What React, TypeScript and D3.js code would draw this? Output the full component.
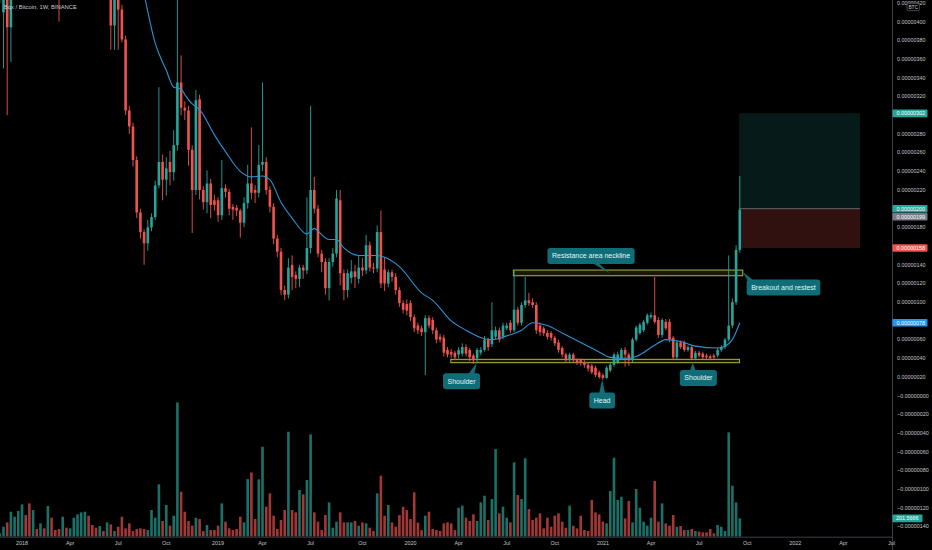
import React from 'react';
import * as d3 from 'd3';

// weekly bars, first bar = week of 2017-11-20
const START = Date.UTC(2017, 10, 20);
const WEEK_MS = 7 * 864e5;

// [open, high, low, close] in satoshi (1e-8 BTC)
const ohlc: [number, number, number, number][] = [
  [430, 450, 420, 445], [410, 500, 350, 470], [480, 500, 300, 394], [394, 520, 357, 480], [480, 700, 460, 620],
  [620, 820, 590, 760], [760, 1050, 720, 900], [900, 960, 760, 820], [820, 860, 640, 700], [700, 780, 650, 740],
  [740, 760, 620, 660], [660, 730, 630, 700], [700, 710, 580, 620], [620, 680, 590, 650], [650, 660, 540, 580],
  [580, 600, 480, 520], [520, 540, 400, 470], [470, 600, 455, 560], [560, 580, 490, 520], [520, 620, 500, 590],
  [590, 700, 570, 660], [660, 760, 640, 720], [720, 830, 700, 780], [780, 900, 750, 820], [820, 840, 700, 740],
  [740, 760, 620, 660], [660, 680, 560, 600], [600, 660, 570, 630], [630, 640, 500, 540], [540, 600, 470, 560],
  // k30
  [560, 580, 370, 396], [396, 470, 370, 440], [440, 450, 370, 413], [413, 418, 378, 381], [381, 385, 300, 305],
  [305, 310, 280, 288], [288, 292, 245, 252], [252, 256, 190, 196], [196, 200, 168, 175], [175, 178, 140, 163],
  [163, 188, 155, 180], [180, 195, 176, 191], [191, 230, 188, 225], [225, 330, 222, 250], [250, 258, 209, 231],
  [231, 255, 214, 243], [250, 262, 225, 239], [239, 284, 230, 268], [268, 430, 262, 335], [335, 364, 300, 308],
  // k50
  [308, 315, 295, 305], [305, 310, 246, 263], [263, 268, 174, 220], [220, 327, 215, 316], [317, 322, 210, 220],
  [220, 224, 199, 207], [207, 241, 195, 227], [227, 232, 190, 204], [209, 215, 198, 204], [209, 212, 186, 193],
  [193, 252, 188, 222], [222, 226, 212, 218], [218, 221, 193, 200], [202, 205, 188, 199], [201, 204, 192, 198],
  [198, 200, 169, 185], [185, 212, 180, 206], [206, 247, 200, 227], [227, 287, 210, 217], [220, 225, 206, 217],
  // k70
  [217, 268, 212, 247], [247, 335, 240, 250], [250, 255, 215, 220], [220, 224, 196, 202], [202, 206, 162, 168],
  [168, 172, 148, 154], [154, 158, 108, 113], [113, 118, 102, 108], [108, 147, 104, 137], [140, 150, 113, 127],
  [129, 133, 115, 125], [125, 140, 116, 137], [137, 140, 125, 134], [134, 212, 130, 158], [158, 310, 152, 220],
  [220, 234, 195, 200], [200, 204, 148, 152], [152, 156, 132, 143], [143, 147, 108, 115], [115, 147, 102, 143],
  // k90
  [143, 158, 138, 152], [152, 220, 148, 211], [209, 220, 118, 131], [131, 135, 102, 113], [113, 135, 105, 131],
  [126, 145, 120, 133], [133, 140, 115, 127], [125, 150, 120, 137], [137, 147, 128, 134], [134, 172, 130, 161],
  [161, 165, 133, 137], [137, 142, 131, 136], [136, 182, 132, 175], [175, 198, 115, 120], [135, 148, 112, 120],
  [120, 135, 116, 132], [132, 135, 122, 127], [127, 131, 108, 113], [113, 116, 95, 99], [99, 102, 88, 92],
  // k110
  [98, 103, 86, 91], [99, 102, 80, 84], [84, 87, 68, 72], [75, 78, 66, 70], [72, 75, 64, 68],
  [68, 86, 22, 83], [83, 86, 72, 75], [81, 84, 66, 70], [70, 73, 56, 60], [63, 66, 57, 60],
  [62, 65, 42, 46], [49, 52, 41, 44], [47, 50, 40, 44], [46, 48, 38, 41], [44, 52, 40, 49],
  [45, 56, 42, 52], [52, 55, 42, 45], [49, 51, 37, 41], [43, 45, 34, 38], [40, 51, 36, 49],
  // k130
  [46, 52, 43, 49], [49, 64, 47, 60], [60, 62, 48, 52], [55, 100, 52, 70], [63, 74, 60, 70],
  [70, 73, 57, 60], [63, 78, 60, 75], [72, 78, 70, 75], [78, 81, 67, 70], [70, 134, 68, 92],
  [92, 95, 75, 78], [78, 100, 75, 97], [97, 127, 94, 102], [102, 110, 96, 99], [100, 104, 94, 97],
  [97, 100, 66, 70], [75, 78, 64, 68], [72, 74, 64, 67], [67, 70, 60, 63], [67, 69, 59, 62],
  // k150
  [62, 64, 53, 56], [57, 60, 46, 49], [51, 53, 41, 44], [44, 46, 35, 38], [38, 46, 36, 44],
  [44, 46, 35, 38], [38, 40, 33, 36], [38, 40, 32, 35], [36, 38, 30, 33], [33, 35, 26, 29],
  [32, 34, 23, 25], [30, 32, 20, 22], [25, 27, 18, 20], [22, 24, 17, 19], [19, 32, 18, 30],
  [27, 35, 25, 33], [33, 46, 31, 44], [36, 47, 34, 44], [40, 51, 38, 49], [49, 52, 31, 44],
  // k170
  [44, 46, 32, 38], [38, 62, 36, 60], [60, 75, 58, 73], [67, 78, 65, 76], [70, 81, 68, 79],
  [78, 88, 76, 86], [84, 89, 82, 86], [86, 127, 77, 79], [81, 84, 62, 65], [65, 83, 62, 81],
  [79, 82, 70, 72], [79, 82, 57, 60], [62, 64, 38, 41], [41, 59, 39, 57], [57, 59, 50, 52],
  [57, 59, 47, 49], [49, 54, 47, 52], [52, 54, 38, 40], [40, 48, 38, 46], [46, 48, 41, 43],
  // k190
  [45, 47, 39, 41], [43, 45, 39, 41], [42, 44, 38, 40], [43, 45, 39, 41], [43, 51, 41, 49],
  [49, 54, 47, 52], [52, 62, 50, 60], [60, 150, 58, 75], [75, 104, 72, 100], [100, 161, 97, 156],
  [156, 235, 153, 199],
];

// weekly volume (relative units)
const volume = [
  10, 30, 43, 75, 60, 77, 97, 65, 100, 80,
  23, 40, 25, 92, 57, 20, 23, 60, 27, 25,
  57, 67, 73, 75, 63, 35, 27, 32, 17, 43,
  37, 17, 30, 60, 25, 40, 17, 23, 25, 23,
  20, 80, 57, 157, 47, 95, 33, 63, 403, 135,
  75, 47, 33, 57, 53, 17, 35, 20, 20, 33,
  100, 45, 25, 20, 23, 60, 43, 173, 193, 53,
  172, 270, 90, 130, 63, 23, 50, 80, 315, 80,
  73, 140, 127, 170, 307, 73, 45, 20, 65, 103,
  27, 45, 73, 43, 43, 43, 47, 33, 43, 40,
  27, 17, 130, 183, 63, 95, 43, 30, 65, 90,
  80, 53, 133, 42, 20, 63, 75, 23, 20, 17,
  40, 43, 40, 20, 87, 93, 57, 47, 67, 47,
  103, 123, 50, 113, 263, 70, 90, 57, 43, 223,
  125, 113, 235, 83, 50, 57, 70, 25, 57, 30,
  63, 70, 45, 27, 93, 33, 25, 63, 20, 17,
  110, 73, 67, 45, 40, 137, 237, 110, 120, 55,
  107, 43, 143, 87, 45, 33, 57, 167, 45, 100,
  40, 33, 65, 30, 32, 20, 20, 23, 17, 15,
  13, 13, 23, 10, 35, 30, 17, 313, 153, 103,
  55,
];
const lastVolumeLabel = '201.5666';

// moving average (week index, satoshi)
const maWeeks = [39, 42, 45, 47, 49, 50, 52, 54, 58, 61, 65, 68, 71, 73, 76, 79, 83, 85, 86, 89, 91, 93, 97, 102, 104, 108, 114, 117, 122, 126, 131, 133, 137, 141, 144, 148, 152, 157, 161, 165, 169, 172, 177, 180, 184, 188, 194, 196, 198, 200];
const maValues = [430, 377, 348, 330, 328, 322, 312, 306, 279, 261, 240, 234, 235, 231, 207, 190, 173, 179, 176, 167, 167, 158, 150, 150, 148, 138, 110, 102, 80, 70, 61, 60, 64, 70, 78, 75, 67, 57, 49, 41, 40, 42, 54, 60, 58, 53, 51, 53, 60, 78];

const priceTicks = [420, 400, 380, 360, 340, 320, 300, 280, 260, 240, 220, 200, 180, 160, 140, 120, 100, 80, 60, 40, 20, 0, -20, -40, -60, -80, -100, -120, -140];
const timeTicks = ['2018-01-01', '2018-04-02', '2018-07-02', '2018-10-01', '2019-01-07', '2019-04-01', '2019-07-01', '2019-10-07', '2020-01-06', '2020-04-06', '2020-07-06', '2020-10-05', '2021-01-04', '2021-04-05', '2021-07-05', '2021-10-04', '2022-01-03', '2022-04-04', '2022-07-04'];
const timeLabels = ['2018', 'Apr', 'Jul', 'Oct', '2019', 'Apr', 'Jul', 'Oct', '2020', 'Apr', 'Jul', 'Oct', '2021', 'Apr', 'Jul', 'Oct', '2022', 'Apr', 'Jul'];

// drawings
const resistanceZone = { fromWeek: 138.8, toWeek: 200.8, top: 134.4, bottom: 128.3 };
const supportZone = { fromWeek: 121.9, toWeek: 199.9, top: 38.9, bottom: 35.3 };
const position = { fromWeek: 199.8, toWeek: 232.5, target: 302, entry: 200, stop: 158 };
const callouts = [
  { text: 'Resistance area neckline', week: 159.8, price: 149.5, anchorWeek: 164.9, anchorPrice: 131, baseWeek: 160.9 },
  { text: 'Shoulder', week: 124.8, price: 15.4, anchorWeek: 128.9, anchorPrice: 35.3, baseWeek: 127.4 },
  { text: 'Head', week: 162.8, price: -5.1, anchorWeek: 162.8, anchorPrice: 17.5, baseWeek: 162.8 },
  { text: 'Shoulder', week: 188.8, price: 18.9, anchorWeek: 187.3, anchorPrice: 35.3, baseWeek: 187.3 },
  { text: 'Breakout and restest', week: 211.8, price: 115.7, anchorWeek: 200.7, anchorPrice: 132.6, baseWeek: 202.8 },
];
const axisLabels = [
  { value: 302, color: '#26a69a' },
  { value: 200, color: '#26a69a' },
  { value: 199, color: '#787b86' },
  { value: 158, color: '#ef5350' },
  { value: 78, color: '#2196f3' },
];

const W = 932;
const H = 550;
const PLOT_R = 892;
const PLOT_B = 536.7;
const GREEN = '#26a69a';
const RED = '#ef5350';
const CALLOUT = '#0f6d78';
const FONT = '"Liberation Sans", Arial, sans-serif';

const weekDate = (k: number) => new Date(START + k * WEEK_MS);
const fmt = (v: number) => (v > 0 ? '' : '\u2212') + (Math.abs(v) / 1e8).toFixed(8);

let ctx: CanvasRenderingContext2D | null = null;
const textWidth = (s: string, size: number) => {
  if (!ctx) ctx = document.createElement('canvas').getContext('2d');
  if (!ctx) return s.length * size * 0.47;
  ctx.font = `${size}px ${FONT}`;
  return ctx.measureText(s).width;
};

export default function App() {
  const x = d3.scaleUtc()
    .domain([new Date(Date.UTC(2018, 0, 1)), new Date(Date.UTC(2022, 0, 3))])
    .range([22, 795.3]);
  const y = d3.scaleLinear().domain([0, 400]).range([395.7, 21.7]);
  const yVol = d3.scaleLinear().domain([0, 403]).range([PLOT_B, 402.4]);
  const xw = (k: number) => x(weekDate(k));
  const bw = 2.6;

  const maLine = d3.line<number>()
    .x((_, i) => xw(maWeeks[i]))
    .y((v) => y(v))
    .curve(d3.curveMonotoneX)(maValues);

  // right axis labels, pushed apart when they collide
  const placed = axisLabels
    .map((l) => ({ ...l, y: y(l.value) }))
    .sort((a, b) => a.y - b.y);
  for (let i = 1; i < placed.length; i++) {
    if (placed[i].y - placed[i - 1].y < 8) placed[i].y = placed[i - 1].y + 8;
  }
  const volLabelY = yVol(volume[volume.length - 1]);
  const blocked = [...placed.map((p) => p.y), volLabelY];

  return (
    <svg width={W} height={H} style={{ position: 'absolute', left: 0, top: 0, background: '#000' }} fontFamily={FONT}>
      <rect width={W} height={H} fill="#000" />
      <defs>
        <clipPath id="plot">
          <rect x={0} y={0} width={PLOT_R} height={PLOT_B} />
        </clipPath>
      </defs>

      <g clipPath="url(#plot)">
        {/* volume */}
        {volume.map((v, k) => {
          const [o, , , c] = ohlc[k];
          return (
            <rect key={'v' + k} x={xw(k) - bw / 2} y={yVol(v)} width={bw} height={PLOT_B - yVol(v)}
              fill={c >= o ? GREEN : RED} fillOpacity={0.68} />
          );
        })}

        {/* position tool */}
        <rect x={xw(position.fromWeek)} y={y(position.target)} width={xw(position.toWeek) - xw(position.fromWeek)}
          height={y(position.entry) - y(position.target)} fill={GREEN} fillOpacity={0.16} />
        <rect x={xw(position.fromWeek)} y={y(position.entry)} width={xw(position.toWeek) - xw(position.fromWeek)}
          height={y(position.stop) - y(position.entry)} fill={RED} fillOpacity={0.2} />
        <line x1={xw(position.fromWeek)} x2={xw(position.toWeek)} y1={y(position.entry)} y2={y(position.entry)}
          stroke="#787b86" strokeWidth={0.8} />

        {/* zones */}
        {[resistanceZone, supportZone].map((z, i) => (
          <rect key={'z' + i} x={xw(z.fromWeek)} y={y(z.top)} width={xw(z.toWeek) - xw(z.fromWeek)}
            height={y(z.bottom) - y(z.top)} fill="#8c8c2a" fillOpacity={0.18} stroke="#b3b346" strokeWidth={1} />
        ))}

        {/* candles */}
        {ohlc.map(([o, h, l, c], k) => {
          const col = c >= o ? GREEN : RED;
          const cx = xw(k);
          const top = y(Math.max(o, c));
          const bot = y(Math.min(o, c));
          return (
            <g key={'c' + k}>
              <line x1={cx} x2={cx} y1={y(h)} y2={y(l)} stroke={col} strokeWidth={0.9} />
              <rect x={cx - bw / 2} y={top} width={bw} height={Math.max(1, bot - top)} fill={col} />
            </g>
          );
        })}

        {/* moving average */}
        <path d={maLine || ''} fill="none" stroke="#2a93d5" strokeWidth={1.1} />

        {/* callouts */}
        {callouts.map((c, i) => {
          const fs = 7;
          const w = textWidth(c.text, fs) + 9;
          const h = 16;
          const cx = xw(c.week);
          const cy = y(c.price);
          const x0 = cx - w / 2, x1 = cx + w / 2, y0 = cy - h / 2, y1 = cy + h / 2;
          const ax = xw(c.anchorWeek), ay = y(c.anchorPrice);
          const ey = ay < y0 ? y0 + 1 : y1 - 1;
          const bx = Math.max(x0 + 4, Math.min(x1 - 4, xw(c.baseWeek)));
          const pts = [[bx - 3, ey], [bx + 3, ey], [ax, ay]];
          return (
            <g key={'co' + i}>
              <polygon points={pts.map((p) => p.join(',')).join(' ')} fill={CALLOUT} />
              <rect x={x0} y={y0} width={w} height={h} rx={3} fill={CALLOUT} />
              <text x={cx} y={cy} dy="0.35em" textAnchor="middle" fontSize={fs} fill="#e6f4f4">{c.text}</text>
            </g>
          );
        })}
      </g>

      {/* axes separators */}
      <line x1={PLOT_R + 0.5} x2={PLOT_R + 0.5} y1={0} y2={H} stroke="#3a3e48" strokeWidth={1} />
      <line x1={0} x2={PLOT_R} y1={PLOT_B + 0.5} y2={PLOT_B + 0.5} stroke="#3a3e48" strokeWidth={1} />

      {/* price axis */}
      {priceTicks.map((p) => {
        const ty = y(p);
        if (blocked.some((b) => Math.abs(b - ty) < 6)) return null;
        return (
          <text key={'p' + p} x={897} y={ty} dy="0.35em" fontSize={5.4} fill="#c3c6ce">{fmt(p)}</text>
        );
      })}
      {placed.map((l, i) => (
        <g key={'al' + i}>
          <rect x={892.5} y={l.y - 3.8} width={35} height={7.6} rx={1} fill={l.color} />
          <text x={896.5} y={l.y} dy="0.35em" fontSize={5.4} fill="#fff">{fmt(l.value)}</text>
        </g>
      ))}
      <rect x={892.5} y={volLabelY - 3.8} width={30} height={7.6} rx={1} fill={GREEN} />
      <text x={896} y={volLabelY} dy="0.35em" fontSize={5.4} fill="#fff">{lastVolumeLabel}</text>

      {/* currency badge */}
      <rect x={907} y={3.3} width={12.3} height={7.4} rx={1.5} fill="#000" stroke="#787b86" strokeWidth={0.6} />
      <text x={913.2} y={7} dy="0.35em" textAnchor="middle" fontSize={4.8} fill="#c3c6ce">BTC</text>

      {/* time axis */}
      {timeTicks.map((t, i) => (
        <text key={'t' + i} x={x(new Date(t + 'T00:00:00Z'))} y={543} dy="0.35em" textAnchor="middle"
          fontSize={5.4} fill="#c3c6ce">{timeLabels[i]}</text>
      ))}

      {/* title */}
      <text x={4} y={7.3} dy="0.35em" fontSize={5.8} fill="#c9ccd4">Bqx / Bitcoin, 1W, BINANCE</text>
    </svg>
  );
}
